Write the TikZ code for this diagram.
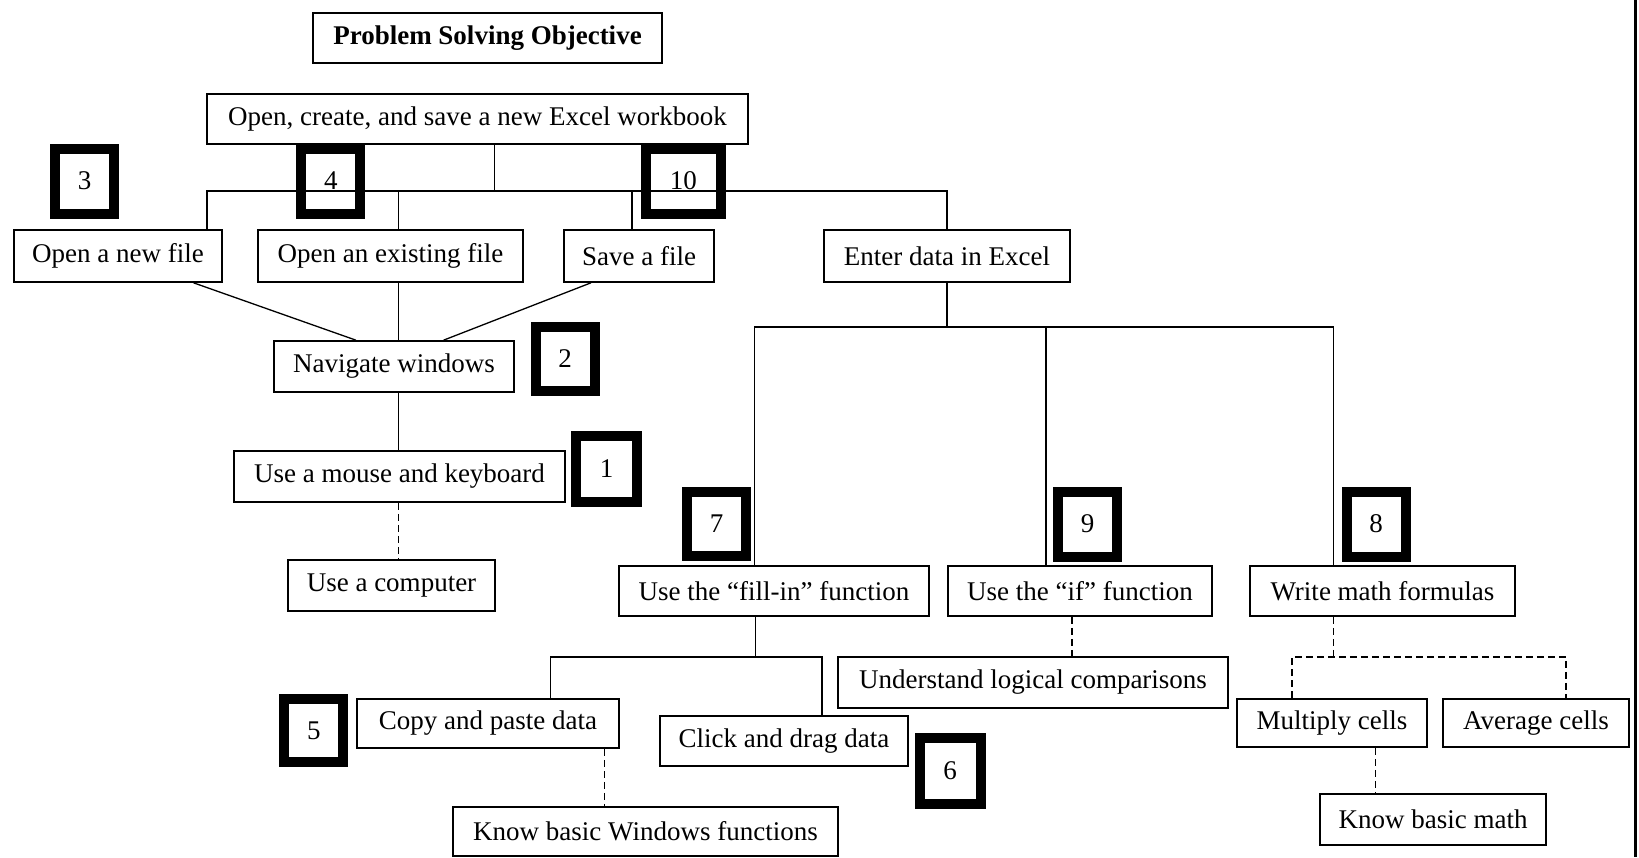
\documentclass[tikz,border=0pt]{standalone}
\usepackage{fontspec}
\setmainfont{Liberation Serif}
\begin{document}
\begin{tikzpicture}[x=1pt,y=-1pt,
  box/.style={draw, line width=1.6pt, inner sep=0pt, font=\fontsize{27}{32}\selectfont, minimum height=50pt},
  badge/.style={draw, line width=10pt, inner sep=0pt, minimum width=59pt, minimum height=65pt, font=\fontsize{27}{32}\selectfont},
  conn/.style={line width=1.3pt},
  dconn/.style={line width=1.3pt, dash pattern=on 7pt off 4pt}]
\useasboundingbox (0,0) rectangle (1639,857);

% boxes
\node[box, font=\bfseries\fontsize{27}{32}\selectfont, minimum width=349pt] (title) at (487.5,37.75) {Problem Solving Objective};
\node[box, minimum width=541pt] (open) at (477.5,118.75) {Open, create, and save a new Excel workbook};
\node[box, minimum width=208pt, minimum height=52pt] (newfile) at (118,256) {Open a new file};
\node[box, minimum width=265pt, minimum height=52pt] (existing) at (390.5,256) {Open an existing file};
\node[box, minimum width=150pt, minimum height=52pt] (save) at (639,256) {Save a file};
\node[box, minimum width=246pt, minimum height=52pt] (enter) at (947,256) {Enter data in Excel};
\node[box, minimum width=240pt, minimum height=51pt] (nav) at (394,366.5) {Navigate windows};
\node[box, minimum width=331pt, minimum height=51pt] (mouse) at (399.5,476.5) {Use a mouse and keyboard};
\node[box, minimum width=207pt, minimum height=51pt] (computer) at (391.5,585.5) {Use a computer};
\node[box, minimum width=310pt] (fill) at (774,591) {Use the “fill-in” function};
\node[box, minimum width=264pt] (iff) at (1080,591) {Use the “if” function};
\node[box, minimum width=265pt] (math) at (1382.5,591) {Write math formulas};
\node[box, minimum width=262pt, minimum height=49pt] (copy) at (488,723.5) {Copy and paste data};
\node[box, minimum width=385pt, minimum height=49pt] (winfunc) at (645.5,831.5) {Know basic Windows functions};
\node[box, minimum width=248pt] (click) at (784,741) {Click and drag data};
\node[box, minimum width=390pt, minimum height=51pt] (logic) at (1033,682.5) {Understand logical comparisons};
\node[box, minimum width=190pt, minimum height=48pt] (multiply) at (1332,723) {Multiply cells};
\node[box, minimum width=186pt, minimum height=48pt] (average) at (1536,723) {Average cells};
\node[box, minimum width=226pt, minimum height=51pt] (basicmath) at (1433,819.5) {Know basic math};

% top tree
\coordinate (busTop) at (494.8,191);
\coordinate (busL) at (207,191);
\coordinate (busR) at (947,191);
\coordinate (busEx) at (398.5,191);
\coordinate (busSv) at (632,191);
\draw[conn] (busTop |- open.south) -- (busTop);
\draw[conn] (busL |- newfile.north) -- (busL) -- (busR) -- (enter.north);
\draw[conn] (busEx) -- (busEx |- existing.north);
\draw[conn] (busSv) -- (busSv |- save.north);
\draw[conn] ([xshift=75.5pt]newfile.south) -- ([xshift=-38pt]nav.north);
\draw[conn] (busEx |- existing.south) -- (busEx |- nav.north);
\draw[conn] ([xshift=-48pt]save.south) -- ([xshift=49.5pt]nav.north);
\draw[conn] (busEx |- nav.south) -- (busEx |- mouse.north);
\draw[dconn] (busEx |- mouse.south) -- (busEx |- computer.north);

% enter data tree
\coordinate (b2) at (947,327);
\coordinate (b2L) at (754.7,327);
\coordinate (b2M) at (1046,327);
\coordinate (b2R) at (1333.6,327);
\draw[conn] (enter.south) -- (b2);
\draw[conn] (b2L |- fill.north) -- (b2L) -- (b2R) -- (b2R |- math.north);
\draw[conn] (b2M) -- (b2M |- iff.north);

% fill-in subtree
\coordinate (b3) at (755.7,657);
\coordinate (b3L) at (550.7,657);
\coordinate (b3R) at (822,657);
\draw[conn] (b3 |- fill.south) -- (b3);
\draw[conn] (b3L |- copy.north) -- (b3L) -- (b3R) -- (b3R |- click.north);
\coordinate (d5) at (604.6,0);
\draw[dconn] (d5 |- copy.south) -- (d5 |- winfunc.north);
\coordinate (d9) at (1072,0);
\draw[dconn] (d9 |- iff.south) -- (d9 |- logic.north);

% math subtree
\coordinate (b4) at (1333.6,657);
\coordinate (b4L) at (1292,657);
\coordinate (b4R) at (1566,657);
\draw[dconn] (b4 |- math.south) -- (b4);
\draw[dconn] (b4L |- multiply.north) -- (b4L) -- (b4R) -- (b4R |- average.north);
\coordinate (d8) at (1375.4,0);
\draw[dconn] (d8 |- multiply.south) -- (d8 |- basicmath.north);

% badges
\node[badge] (n3) at (84.5,181) {3};
\node[badge] (n4) at (330.75,181) {4};
\node[badge, minimum width=75pt] (n10) at (683.4,181) {10};
\node[badge, minimum height=64pt] (n2) at (565,359) {2};
\node[badge, minimum width=61pt, minimum height=66pt] (n1) at (606.5,469) {1};
\node[badge, minimum height=64pt] (n7) at (716.5,524) {7};
\node[badge] (n9) at (1087.5,524) {9};
\node[badge] (n8) at (1376.2,524) {8};
\node[badge, minimum height=63pt] (n5) at (313.8,730.4) {5};
\node[badge, minimum width=61pt, minimum height=66pt] (n6) at (950,771) {6};

% right edge rule
\coordinate (rt) at (1635.5,0);
\coordinate (rb) at (1635.5,857);
\draw[line width=2.5pt] (rt) -- (rb);
\end{tikzpicture}
\end{document}
